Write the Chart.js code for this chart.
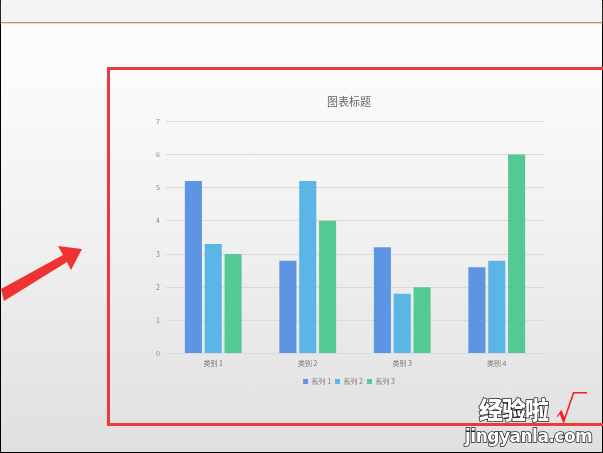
<!DOCTYPE html>
<html>
<head>
<meta charset="utf-8">
<script src="https://cdn.jsdelivr.net/npm/chart.js@4/dist/chart.umd.min.js"></script>
<style>
  html, body { margin: 0; padding: 0; }
  body { width: 603px; height: 453px; overflow: hidden; position: relative; background: #000; }
  #page { position: absolute; left: 1px; top: 0; width: 601px; height: 452px;
    background: linear-gradient(to bottom, #fdfdfd 0px, #fcfcfc 60px, #f3f3f3 200px, #e9e9e9 330px, #e0e0e0 452px); }
  #topbar { position: absolute; left: 0; top: 0; width: 601px; height: 22px; background: #f3f4f5; border-bottom: 1px solid #b89a78; box-shadow: 0 1px 1px #f0d8c0; }
  #redbox { position: absolute; left: 106px; top: 67px; width: 494px; height: 353px; border: 3px solid #ea3b3b; }
  #wrap { position: absolute; left: 110px; top: 72px; width: 488px; height: 348px; }
  #arrow { position: absolute; left: 0; top: 0; }
  .wm { position: absolute; font-family: "Noto Sans CJK SC", sans-serif; font-weight: 900; color: #fff;
    -webkit-text-stroke: 1.5px #222; paint-order: stroke fill; }
</style>
</head>
<body>
<div id="page">
  <div id="topbar"></div>
  <div id="redbox"></div>
  <div id="wrap"><canvas id="c"></canvas></div>
  <svg id="arrow" width="120" height="320">
    <polygon points="0,289 62,255 57,246 81,249 70,270 66,262 3,301" fill="#f03232"/>
  </svg>
  <div class="wm" style="left:478px; top:395px; font-size:24px; line-height:28px; letter-spacing:-1px;">经验啦</div>
  <div class="wm" style="left:555px; top:390px; font-size:31px; line-height:32px; color:#f02020; -webkit-text-stroke:0;">√</div>
  <div class="wm" style="left:464px; top:426px; font-size:17px; line-height:20px; font-family:'DejaVu Sans', sans-serif; letter-spacing:-0.5px;">jingyanla.com</div>
</div>
<script>
const categories = ["类别 1", "类别 2", "类别 3", "类别 4"];
const series1 = [5.2, 2.8, 3.2, 2.6];
const series2 = [3.3, 5.2, 1.8, 2.8];
const series3 = [3, 4, 2, 6];
const seriesNames = ["系列 1", "系列 2", "系列 3"];
const yTicks = [0, 1, 2, 3, 4, 5, 6, 7];
const chartTitle = "图表标题";

const font = "'Noto Sans CJK SC', 'Noto Sans', sans-serif";
new Chart(document.getElementById('c'), {
  type: 'bar',
  data: {
    labels: categories,
    datasets: [
      { label: seriesNames[0], data: series1, backgroundColor: '#5d95e2' },
      { label: seriesNames[1], data: series2, backgroundColor: '#5bb5e7' },
      { label: seriesNames[2], data: series3, backgroundColor: '#55c993' }
    ]
  },
  options: {
    responsive: true,
    maintainAspectRatio: false,
    animation: false,
    datasets: { bar: { categoryPercentage: 0.63, barPercentage: 0.86 } },
    layout: { padding: { left: 43, right: 55, top: 0, bottom: 25 } },
    plugins: {
      title: { display: true, text: chartTitle, color: '#666', font: { family: font, size: 11, weight: 'normal' }, padding: { top: 23, bottom: 13 } },
      legend: { position: 'bottom', labels: { color: '#777', font: { family: font, size: 7 }, boxWidth: 5, boxHeight: 5, padding: 4 } },
      tooltip: { enabled: false }
    },
    scales: {
      x: {
        grid: { display: false, drawTicks: false },
        border: { display: false },
        ticks: { color: '#777', font: { family: font, size: 7 }, padding: 6 }
      },
      y: {
        min: 0, max: 7,
        afterFit: s => { s.width = 12; },
        afterBuildTicks: s => { s.ticks = yTicks.map(v => ({ value: v })); },
        grid: { color: '#dadada', drawTicks: false },
        border: { display: false },
        ticks: { color: '#888', font: { family: font, size: 7 }, padding: 6 }
      }
    }
  }
});
</script>
</body>
</html>
